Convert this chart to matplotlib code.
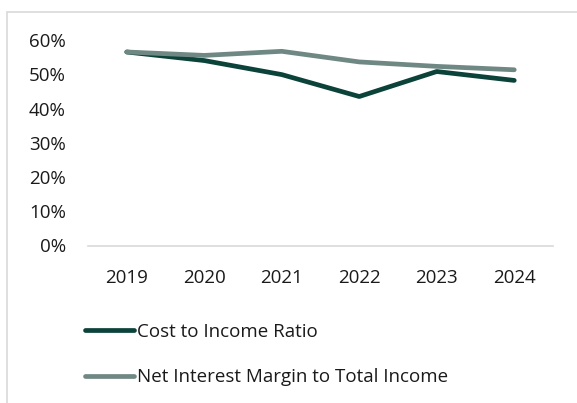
import matplotlib
matplotlib.use("Agg")
import matplotlib.pyplot as plt
from matplotlib.patches import Rectangle
from matplotlib.ticker import PercentFormatter

# data
years = ["2019", "2020", "2021", "2022", "2023", "2024"]
cost_to_income = [0.565, 0.540, 0.499, 0.435, 0.508, 0.482]
nim_to_income = [0.565, 0.555, 0.567, 0.536, 0.523, 0.513]

plt.rcParams['font.family'] = ['Open Sans', 'DejaVu Sans']

fig = plt.figure(figsize=(5.77, 4.03), dpi=100)

# light frame around the chart (runs off right/bottom edge as in reference)
fig.patches.append(Rectangle((7 / 577, -0.05), 1.2, (403 - 12) / 403 + 0.05,
                             transform=fig.transFigure, fill=False,
                             edgecolor='#d9d9d9', linewidth=1.2))

ax = fig.add_axes([88 / 577, (403 - 245.5) / 403, (553 - 88) / 577, (245.5 - 40) / 403])

x = range(len(years))
ax.plot(x, cost_to_income, color='#0b4239', linewidth=3.4,
        solid_capstyle='round', label='Cost to Income Ratio')
ax.plot(x, nim_to_income, color='#6f8884', linewidth=3.4,
        solid_capstyle='round', label='Net Interest Margin to Total Income')

ax.set_xlim(-0.5, len(years) - 0.5)
ax.set_ylim(0, 0.6)
ax.set_yticks([0, 0.1, 0.2, 0.3, 0.4, 0.5, 0.6])
ax.yaxis.set_major_formatter(PercentFormatter(1.0, decimals=0))
ax.set_xticks(list(x))
ax.set_xticklabels(years)

for side in ['top', 'right', 'left']:
    ax.spines[side].set_visible(False)
ax.spines['bottom'].set_color('#d9d9d9')
ax.spines['bottom'].set_linewidth(1.2)
ax.tick_params(axis='both', length=0, labelsize=13.5, colors='#1a1a1a')
ax.tick_params(axis='x', pad=17)
ax.tick_params(axis='y', pad=16)

fig.legend(loc='upper left', bbox_to_anchor=(85 / 577, (403 - 323) / 403),
           frameon=False, fontsize=13.5, handlelength=2.6, handletextpad=0.15,
           labelspacing=1.45, borderpad=0, borderaxespad=0, labelcolor='#1a1a1a')

fig.savefig("out.png", dpi=100, facecolor='white')
